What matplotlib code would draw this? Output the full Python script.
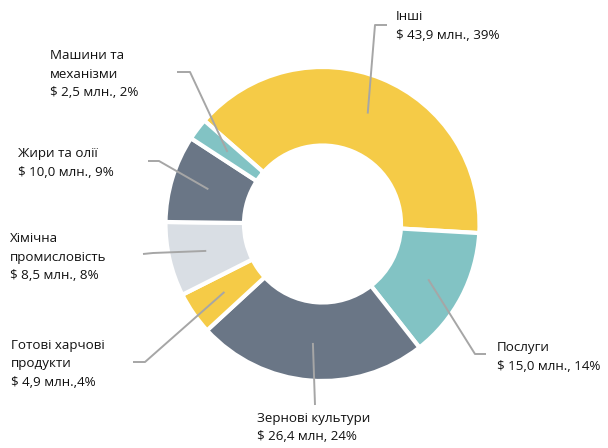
import numpy as np
import matplotlib.pyplot as plt

plt.rcParams['font.family'] = ['Open Sans', 'DejaVu Sans']

W, H = 608, 448

categories = ['Інші', 'Послуги', 'Зернові культури', 'Готові харчові\nпродукти',
              'Хімічна\nпромисловість', 'Жири та олії', 'Машини та\nмеханізми']
values = [43.9, 15.0, 26.4, 4.9, 8.5, 10.0, 2.5]
value_labels = ['$ 43,9 млн., 39%', '$ 15,0 млн., 14%', '$ 26,4 млн, 24%',
                '$ 4,9 млн.,4%', '$ 8,5 млн., 8%', '$ 10,0 млн., 9%', '$ 2,5 млн., 2%']
colors = ['#F5CB47', '#82C3C4', '#6A7686', '#F5CB47', '#D9DEE4', '#6A7686', '#82C3C4']

# label layout in pixel coords (y down): elbow/stub points, text anchor, alignment
leader_pts = [[(375, 25), (387, 25)],
              [(475, 354), (486, 354)],
              [(315, 405)],
              [(145, 362), (133, 362)],
              [(153, 253), (143, 254)],
              [(159, 161), (148, 161)],
              [(190, 72), (177, 72)]]
text_pos = [(396, 26, 'left', 'center'),
            (497, 357, 'left', 'center'),
            (314, 412, 'center', 'top'),
            (11, 364, 'left', 'center'),
            (10, 257, 'left', 'center'),
            (18, 163, 'left', 'center'),
            (50, 74, 'left', 'center')]


def px(x, y):
    return x, H - y


fig = plt.figure(figsize=(W / 100, H / 100), dpi=100)
ax = fig.add_axes([0, 0, 1, 1])

cx, cy = px(322.5, 224)
R = 157
wedges, _ = ax.pie(values, colors=colors, startangle=138.8, counterclock=False,
                   center=(cx, cy), radius=R, frame=True,
                   wedgeprops=dict(width=R * 0.5, edgecolor='white', linewidth=3))

ax.set_xlim(0, W)
ax.set_ylim(0, H)
ax.set_aspect('equal')
ax.axis('off')

for w, cat, val, pts, (tx, ty, ha, va) in zip(wedges, categories, value_labels,
                                              leader_pts, text_pos):
    ang = np.deg2rad((w.theta1 + w.theta2) / 2)
    r0 = R * 0.76
    xs = [cx + r0 * np.cos(ang)] + [px(*p)[0] for p in pts]
    ys = [cy + r0 * np.sin(ang)] + [px(*p)[1] for p in pts]
    ax.plot(xs, ys, color='#A6A6A6', lw=1.4, solid_capstyle='butt')
    x, y = px(tx, ty)
    ax.text(x, y, cat + '\n' + val, ha=ha, va=va, fontsize=9.6,
            color='#111111', linespacing=1.52, multialignment='left')

fig.savefig('out.png', dpi=100)
